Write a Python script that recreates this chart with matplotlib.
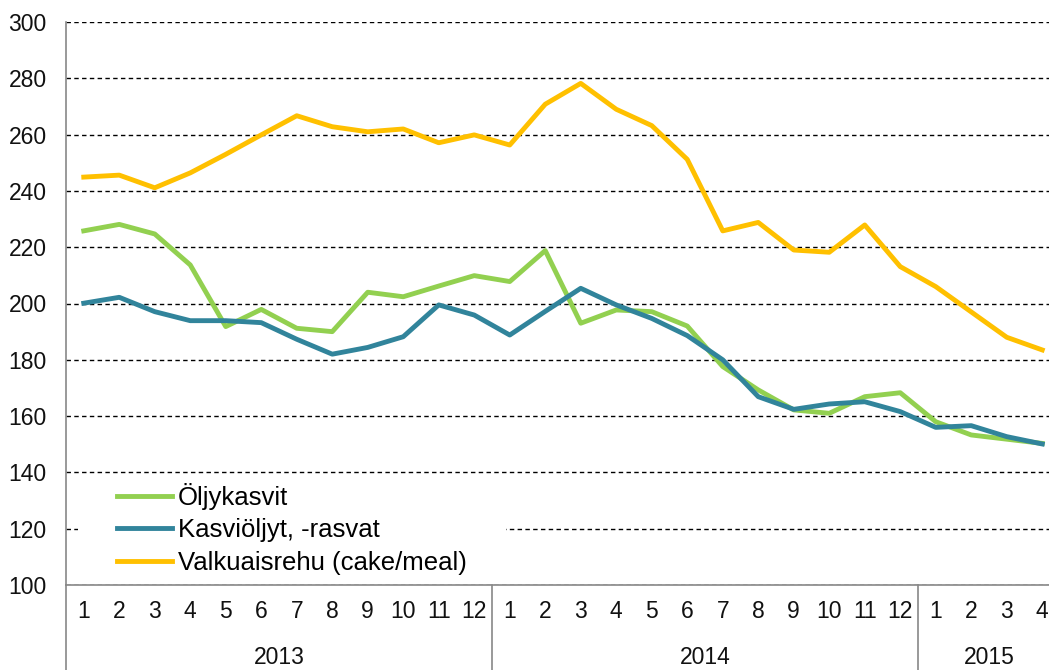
import matplotlib
matplotlib.use("Agg")
import matplotlib.pyplot as plt
from matplotlib.patches import Rectangle

plt.rcParams['font.family'] = ['Liberation Sans', 'DejaVu Sans']

# data (indeksit, kuukausittain 2013-1 ... 2015-4)
months = [str(m) for m in range(1, 13)] + [str(m) for m in range(1, 13)] + [str(m) for m in range(1, 5)]
years = ['2013', '2014', '2015']
year_counts = [12, 12, 4]

oljykasvit = [225.8, 228.1, 224.7, 213.7, 191.8, 197.9, 191.2, 190.0, 204.0, 202.4, 206.2, 209.9,
              207.8, 218.8, 193.0, 197.7, 197.1, 192.0, 177.6, 169.3, 162.2, 161.0, 166.9, 168.3,
              158.0, 153.3, 151.8, 150.3]
kasvioljyt = [200.1, 202.2, 197.1, 193.9, 193.9, 193.2, 187.3, 182.0, 184.4, 188.2, 199.5, 195.9,
              188.8, 197.2, 205.4, 199.5, 194.7, 188.6, 180.0, 166.9, 162.4, 164.3, 165.1, 161.6,
              156.0, 156.6, 152.7, 150.1]
valkuaisrehu = [244.9, 245.6, 241.1, 246.4, 253.0, 259.9, 266.7, 262.8, 261.0, 262.0, 257.1, 259.9,
                256.3, 270.8, 278.2, 269.0, 263.2, 251.2, 225.8, 228.8, 219.0, 218.2, 227.9, 213.1,
                206.0, 197.0, 188.0, 183.5]

labels = ['Öljykasvit', 'Kasviöljyt, -rasvat', 'Valkuaisrehu (cake/meal)']
colors = ['#92D050', '#31849B', '#FFC000']

W, H = 1049, 670
fig = plt.figure(figsize=(W / 100, H / 100), dpi=100)
# plot area runs a little past the right edge, like in the original
ax = fig.add_axes([66 / W, (H - 585) / H, (1060 - 66) / W, (585 - 22) / H])

x = list(range(len(months)))
for vals, lab, col in zip([oljykasvit, kasvioljyt, valkuaisrehu], labels, colors):
    ax.plot(x, vals, color=col, lw=3.5, label=lab, solid_joinstyle='round', zorder=3)

ax.set_xlim(-0.5, len(months) - 0.5)
ax.set_ylim(100, 300)
ax.set_yticks(range(100, 301, 20))
ax.set_xticks(x)
ax.set_xticklabels(months)

ax.yaxis.grid(True, color='black', lw=1.0, linestyle=(0, (3.2, 2.4)), zorder=1)
ax.set_axisbelow(True)
ax.tick_params(axis='y', length=0, pad=14, labelsize=16.5, labelcolor='#111111')
ax.tick_params(axis='x', length=0, pad=11, labelsize=16.5, labelcolor='#111111')

for s in ['top', 'right']:
    ax.spines[s].set_visible(False)
for s in ['left', 'bottom']:
    ax.spines[s].set_color('#888888')
    ax.spines[s].set_linewidth(1.2)

# year separators and year labels under the month labels
tr = ax.get_xaxis_transform()
start = 0
for yr, n in zip(years, year_counts):
    ax.plot([start - 0.5, start - 0.5], [0, -0.2], transform=tr, color='#888888', lw=1.2, clip_on=False)
    ax.text(start - 0.5 + n / 2, (585 - 669.5) / 563, yr, transform=tr, ha='center', va='bottom',
            fontsize=16.5, color='#111111')
    start += n

# white box behind the legend (hides the 120 gridline there)
ax.add_patch(Rectangle(((78 - 66) / 994, 0.004), (506 - 78) / 994, (585 - 481) / 563,
                       transform=ax.transAxes, facecolor='white', edgecolor='none', zorder=2))
ax.legend(loc='upper left', bbox_to_anchor=((117 - 66) / 994, (585 - 483) / 563), frameon=False,
          fontsize=18.5, handlelength=2.14, handletextpad=0.23, labelspacing=0.33, borderpad=0,
          borderaxespad=0)

fig.savefig('out.png', dpi=100)
